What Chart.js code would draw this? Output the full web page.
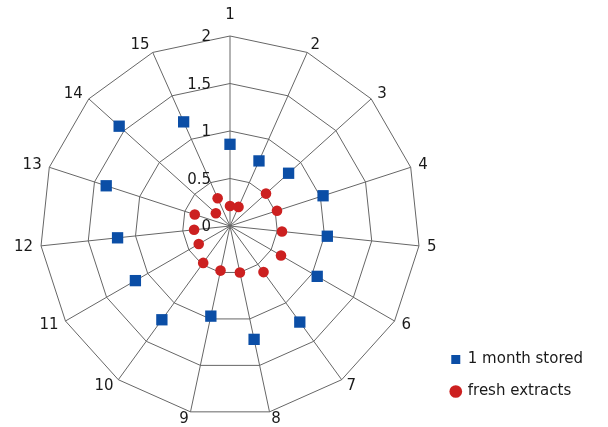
<!DOCTYPE html>
<html>
<head>
<meta charset="utf-8">
<script src="https://cdn.jsdelivr.net/npm/chart.js@4"></script>
<style>body{margin:0;background:#fff}</style>
</head>
<body>
<canvas id="mychart" width="608" height="427"></canvas>
<script>
	const categories=['1','2','3','4','5','6','7','8','9','10','11','12','13','14','15'];
	const stored=[0.86,0.75,0.83,1.03,1.03,1.06,1.25,1.22,0.97,1.22,1.15,1.19,1.37,1.57,1.20];
	const fresh=[0.21,0.22,0.51,0.52,0.55,0.62,0.60,0.50,0.48,0.48,0.38,0.38,0.39,0.20,0.32];
	const tickValues=[0,0.5,1,1.5,2];

	var textFont='15px "DejaVu Sans"';
	var textColor='#1a1a1a';

	// tick numbers sit just left of the vertical axis, like the original
	const tickText={
		id:'tickText',
		afterDatasetsDraw(chart){
			const s=chart.scales.r, ctx=chart.ctx;
			ctx.save();
			ctx.font=textFont;
			ctx.fillStyle=textColor;
			ctx.textAlign='right';
			ctx.textBaseline='middle';
			s.ticks.forEach(function(t){
				ctx.fillText(String(t.value), s.xCenter-19, s.yCenter-s.getDistanceFromCenterForValue(t.value)+1.5);
			});
			ctx.restore();
		}
	};

	// category labels hug the outer polygon corners
	const pointText={
		id:'pointText',
		afterDatasetsDraw(chart){
			const s=chart.scales.r, ctx=chart.ctx;
			ctx.save();
			ctx.font=textFont;
			ctx.fillStyle=textColor;
			ctx.textBaseline='middle';
			categories.forEach(function(lab,i){
				const a=s.getIndexAngle(i);
				const p=s.getPointPosition(i,s.drawingArea);
				const sn=Math.sin(a), cs=Math.cos(a);
				var x=p.x+8*sn, y=p.y-7.5*cs;
				if(Math.abs(sn)<0.05){
					ctx.textAlign='center';
					y=p.y-21;
				}else{
					ctx.textAlign=sn>0?'left':'right';
				}
				ctx.fillText(lab,x,y);
			});
			ctx.restore();
		}
	};

	var blue='#0b4ea6';
	var red='#cc2020';
	var ctx=document.getElementById('mychart').getContext('2d');
	var myChart=new Chart(ctx,{
		type:'radar',
		data:{
			labels:categories,
			datasets:[{
				label:'1 month stored',
				data:stored,
				fill:false,
				borderColor:'transparent',
				borderWidth:0,
				pointStyle:'rect',
				pointRadius:8,
				pointHoverRadius:8,
				pointBackgroundColor:blue,
				pointBorderColor:blue,
				pointBorderWidth:0,
				backgroundColor:blue
			},{
				label:'fresh extracts',
				data:fresh,
				fill:false,
				borderColor:'transparent',
				borderWidth:0,
				pointStyle:'circle',
				pointRadius:5.3,
				pointHoverRadius:5.3,
				pointBackgroundColor:red,
				pointBorderColor:red,
				pointBorderWidth:0,
				backgroundColor:red
			}]
		},
		options:{
			responsive:false,
			animation:false,
			layout:{padding:{left:27,right:15,top:36,bottom:11}},
			plugins:{
				legend:{
					position:'right',
					align:'end',
					labels:{
						usePointStyle:true,
						boxHeight:9,
						boxWidth:9,
						padding:17,
						color:textColor,
						font:{family:'DejaVu Sans',size:15}
					}
				},
				tooltip:{enabled:false}
			},
			scales:{
				r:{
					min:0,
					max:2,
					afterBuildTicks:function(scale){
						scale.ticks=tickValues.map(function(v){return {value:v};});
					},
					ticks:{display:false},
					grid:{color:'#666',lineWidth:1},
					angleLines:{color:'#666',lineWidth:1},
					pointLabels:{display:false}
				}
			}
		},
		plugins:[tickText,pointText]
	});
</script>
</body>
</html>
